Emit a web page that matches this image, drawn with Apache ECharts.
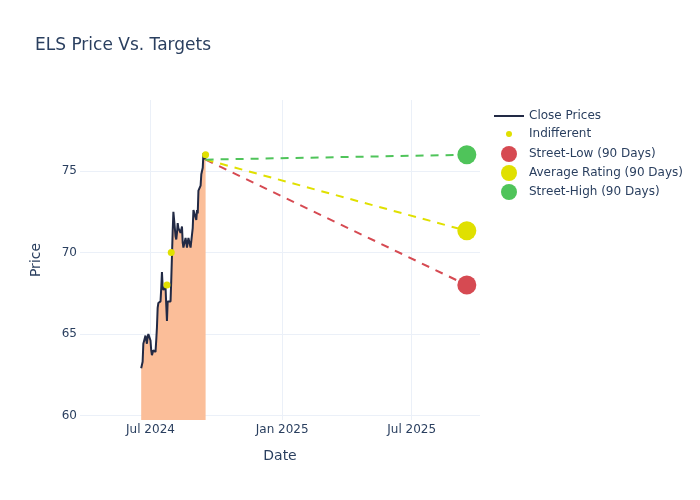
<!DOCTYPE html>
<html>
<head>
<meta charset="utf-8">
<script src="https://cdn.jsdelivr.net/npm/echarts@6/dist/echarts.min.js"></script>
<style>html,body{margin:0;padding:0;background:#fff}#c{width:700px;height:500px}</style>
</head>
<body>
<div id="c"></div>
<script>
// ---- data ----
const closeDates = ['2024-06-18','2024-06-20','2024-06-21','2024-06-24','2024-06-25','2024-06-26','2024-06-27','2024-06-28',
 '2024-07-01','2024-07-02','2024-07-03','2024-07-05','2024-07-08','2024-07-09','2024-07-10','2024-07-11','2024-07-12',
 '2024-07-15','2024-07-16','2024-07-17','2024-07-18','2024-07-19','2024-07-22','2024-07-23','2024-07-24','2024-07-25','2024-07-26',
 '2024-07-29','2024-07-30','2024-07-31','2024-08-01','2024-08-02','2024-08-05','2024-08-06','2024-08-07','2024-08-08','2024-08-09',
 '2024-08-12','2024-08-13','2024-08-14','2024-08-15','2024-08-16','2024-08-19','2024-08-20','2024-08-21','2024-08-22','2024-08-23',
 '2024-08-26','2024-08-27','2024-08-28','2024-08-29','2024-08-30','2024-09-03','2024-09-04','2024-09-05','2024-09-06',
 '2024-09-09','2024-09-10','2024-09-11','2024-09-12','2024-09-13','2024-09-16'];
const closePrices = [62.9,63.3,64.4,64.9,65.0,64.4,64.8,65.0,
 64.6,64.0,63.7,64.0,63.9,64.6,65.4,66.6,66.9,
 67.0,67.8,68.8,67.9,67.7,67.9,66.8,65.8,67.0,67.0,
 67.0,68.3,69.8,71.3,72.5,71.0,70.8,71.2,71.8,71.5,
 71.2,71.4,71.6,70.6,70.3,70.9,70.6,70.3,70.6,70.9,
 70.3,70.3,70.3,71.5,72.6,72.0,72.6,72.4,73.8,
 74.1,74.8,75.0,75.2,76.1,75.7];
const ratingDates = ['2024-07-24','2024-07-30','2024-09-16'];
const ratingTargets = [68, 70, 76];
const targetDate = '2025-09-16';
const streetLow = 68;
const averageRating = 71.33;
const streetHigh = 76;
const xTickDates = ['2024-07-01','2025-01-01','2025-07-01'];
const yTickValues = [60, 65, 70, 75];

// ---- chart ----
const DAY = 86400000;
const ts = s => { const p = s.split('-').map(Number); return new Date(p[0], p[1] - 1, p[2]).getTime(); };
const xTicks = xTickDates.map(ts);
const xMin = xTicks[0] - 98.5 * DAY;
const xMax = xTicks[2] + 95.4 * DAY;
const MONTHS = ['Jan','Feb','Mar','Apr','May','Jun','Jul','Aug','Sep','Oct','Nov','Dec'];
const TXT = '#2a3f5f';
const FONT = 'DejaVu Sans';
const GRID = '#ebf0f8';

const lastDate = ts(closeDates[closeDates.length - 1]);
const lastClose = closePrices[closePrices.length - 1];

function targetSeries(name, value, color) {
  return {
    name: name, type: 'line',
    data: [{value: [lastDate, lastClose], symbol: 'none'}, {value: [ts(targetDate), value]}],
    symbol: 'circle', symbolSize: 19, showSymbol: true,
    itemStyle: {color: color, opacity: 1},
    lineStyle: {color: color, width: 2, type: [8, 7]},
    z: 4, silent: true
  };
}

function leg(name, left, top, icon, h) {
  return {
    data: [{name: name, icon: icon}], left: left, top: top, orient: 'vertical', padding: 0,
    itemWidth: 30, itemHeight: h, itemGap: 5,
    textStyle: {color: TXT, fontSize: 12, fontFamily: FONT}
  };
}

const chart = echarts.init(document.getElementById('c'), null, {renderer: 'canvas'});
chart.setOption({
  animation: false,
  backgroundColor: '#fff',
  title: {
    text: 'ELS Price Vs. Targets', left: 30, top: 32,
    textStyle: {color: TXT, fontSize: 17, fontWeight: 'normal', fontFamily: FONT}
  },
  legend: [
    leg('Close Prices', 494, 110, 'rect', 2),
    leg('Indifferent', 506, 128, 'circle', 6),
    leg('Street-Low (90 Days)', 501, 146, 'circle', 16),
    leg('Average Rating (90 Days)', 501, 165, 'circle', 16),
    leg('Street-High (90 Days)', 501, 184, 'circle', 16)
  ],
  grid: {left: 80, right: 220, top: 100, bottom: 80, containLabel: false},
  xAxis: {
    type: 'value', min: xMin, max: xMax, scale: true,
    axisLine: {show: false},
    axisTick: {show: false, customValues: xTicks},
    axisLabel: {
      customValues: xTicks, color: TXT, fontSize: 12, fontFamily: FONT, margin: 4,
      formatter: v => { const d = new Date(v); return MONTHS[d.getMonth()] + ' ' + d.getFullYear(); }
    },
    splitLine: {show: true, lineStyle: {color: GRID, width: 1}},
    name: 'Date', nameLocation: 'middle', nameGap: 29,
    nameTextStyle: {color: TXT, fontSize: 14, fontFamily: FONT}
  },
  yAxis: {
    type: 'value', min: 59.72, max: 79.36,
    axisLine: {show: false},
    axisTick: {show: false, customValues: yTickValues},
    axisLabel: {customValues: yTickValues, color: TXT, fontSize: 12, fontFamily: FONT, margin: 3},
    splitLine: {show: true, lineStyle: {color: GRID, width: 1}},
    name: 'Price', nameLocation: 'middle', nameGap: 37,
    nameTextStyle: {color: TXT, fontSize: 14, fontFamily: FONT}
  },
  series: [
    {
      name: 'Close Prices', type: 'line',
      data: closeDates.map((d, i) => [ts(d), closePrices[i]]),
      showSymbol: false, symbol: 'none',
      itemStyle: {color: '#222a45'},
      lineStyle: {color: '#222a45', width: 2},
      areaStyle: {color: '#fbbe99', opacity: 1, origin: 'start'},
      z: 2, silent: true
    },
    {
      name: 'Indifferent', type: 'scatter',
      data: ratingDates.map((d, i) => [ts(d), ratingTargets[i]]),
      symbol: 'circle', symbolSize: 7,
      itemStyle: {color: '#e0e000', opacity: 1},
      z: 3, silent: true
    },
    targetSeries('Street-Low (90 Days)', streetLow, '#d64a52'),
    targetSeries('Average Rating (90 Days)', averageRating, '#e0e000'),
    targetSeries('Street-High (90 Days)', streetHigh, '#4fc45a')
  ]
});
</script>
</body>
</html>
